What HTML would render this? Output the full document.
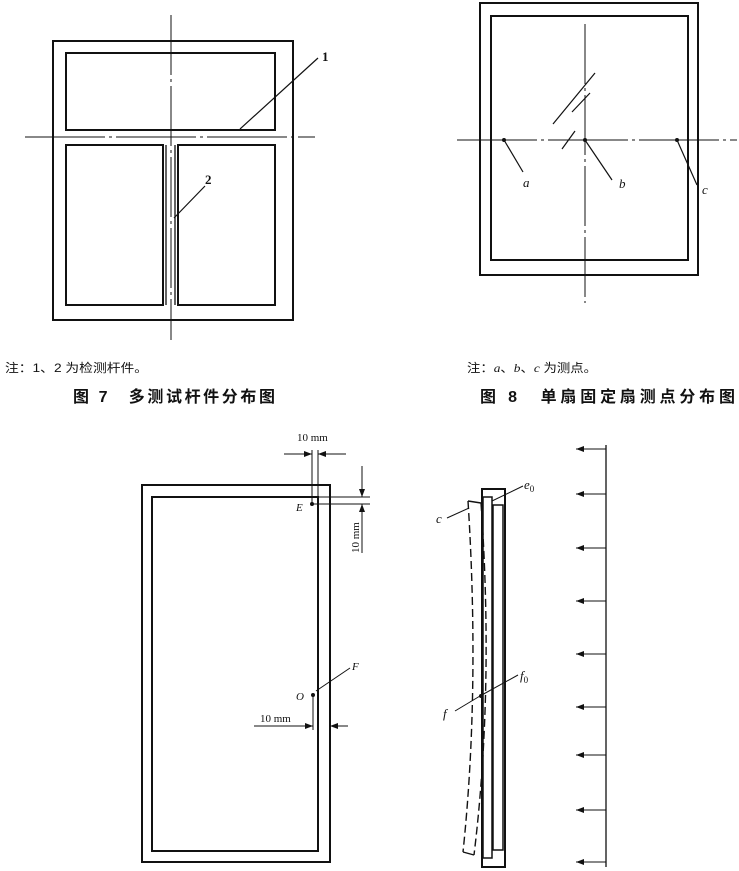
<!DOCTYPE html>
<html><head><meta charset="utf-8"><style>
body{margin:0;background:#fff;width:739px;height:871px;overflow:hidden}
svg{display:block}
text{font-family:"Liberation Serif","Noto Serif CJK SC",serif;fill:#111}
.cj{font-family:"Liberation Sans","Noto Sans CJK SC",sans-serif}
</style></head><body>
<svg width="739" height="871" viewBox="0 0 739 871" xmlns="http://www.w3.org/2000/svg">
<defs><marker id="ah" markerWidth="8" markerHeight="6" refX="8" refY="3" orient="auto" markerUnits="userSpaceOnUse"><path d="M0,0 L8,3 L0,6z" fill="#111"/></marker></defs>
<g stroke="#111" fill="none" stroke-width="2">
<!-- Fig 7 -->
<rect x="53" y="41" width="240" height="279"/>
<rect x="66" y="53" width="209" height="77"/>
<rect x="66" y="145" width="97" height="160"/>
<rect x="178" y="145" width="97" height="160"/>
<line x1="166" y1="145" x2="166" y2="305" stroke-width="1.3"/>
<line x1="175" y1="145" x2="175" y2="305" stroke-width="1.3"/>
<line x1="171" y1="15" x2="171" y2="340" stroke-width="1" stroke-dasharray="60,4,3,4"/>
<line x1="25" y1="137" x2="315" y2="137" stroke-width="1" stroke-dasharray="80,4,3,4"/>
<line x1="240" y1="129" x2="318" y2="58" stroke-width="1.2"/>
<line x1="174" y1="218" x2="205" y2="186" stroke-width="1.2"/>
<!-- Fig 8 -->
<rect x="480" y="3" width="218" height="272"/>
<rect x="491" y="16" width="197" height="244"/>
<line x1="585" y1="24" x2="585" y2="303" stroke-width="1" stroke-dasharray="60,4,3,4"/>
<line x1="457" y1="140" x2="737" y2="140" stroke-width="1" stroke-dasharray="80,4,3,4"/>
<line x1="504" y1="140" x2="523" y2="172" stroke-width="1.2"/>
<line x1="585" y1="140" x2="612" y2="180" stroke-width="1.2"/>
<line x1="677" y1="140" x2="697" y2="185" stroke-width="1.2"/>
<line x1="553" y1="124" x2="595" y2="73" stroke-width="1.2"/>
<line x1="572" y1="112" x2="590" y2="93" stroke-width="1.2"/>
<line x1="562" y1="149" x2="575" y2="131" stroke-width="1.2"/>
<!-- Fig 9 left -->
<rect x="142" y="485" width="188" height="377"/>
<rect x="152" y="497" width="166" height="354"/>
<g stroke-width="1">
<line x1="312" y1="450" x2="312" y2="504"/>
<line x1="318" y1="450" x2="318" y2="497"/>
<line x1="284" y1="454" x2="312" y2="454" marker-end="url(#ah)"/>
<line x1="346" y1="454" x2="318" y2="454" marker-end="url(#ah)"/>
<line x1="318" y1="497" x2="370" y2="497"/>
<line x1="312" y1="504" x2="370" y2="504"/>
<line x1="362" y1="466" x2="362" y2="497" marker-end="url(#ah)"/>
<line x1="362" y1="553" x2="362" y2="504" marker-end="url(#ah)"/>
<line x1="313" y1="695" x2="313" y2="730"/>
<line x1="254" y1="726" x2="313" y2="726" marker-end="url(#ah)"/>
<line x1="348" y1="726" x2="330" y2="726" marker-end="url(#ah)"/>
<line x1="316" y1="691" x2="350" y2="668"/>
</g>
<!-- Fig 9 right -->
<rect x="482" y="489" width="23" height="378"/>
<rect x="483" y="497" width="9" height="361" stroke-width="1.5"/>
<rect x="493" y="505" width="10" height="345" stroke-width="1.5"/>
<g stroke-width="1.4" stroke-dasharray="8,4">
<path d="M468,501 Q480,690 463,852"/>
<path d="M481,503 Q494,690 474,855"/>
</g>
<line x1="468" y1="501" x2="481" y2="503" stroke-width="1.4"/>
<line x1="463" y1="852" x2="474" y2="855" stroke-width="1.4"/>
<g stroke-width="1">
<line x1="447" y1="518" x2="469" y2="508"/>
<line x1="492" y1="501" x2="523" y2="486"/>
<line x1="480" y1="696" x2="518" y2="675"/>
<line x1="455" y1="711" x2="480" y2="696"/>
<line x1="606" y1="445" x2="606" y2="867" stroke-width="1.3"/>
<line x1="606" y1="449" x2="576" y2="449" marker-end="url(#ah)"/>
<line x1="606" y1="494" x2="576" y2="494" marker-end="url(#ah)"/>
<line x1="606" y1="548" x2="576" y2="548" marker-end="url(#ah)"/>
<line x1="606" y1="601" x2="576" y2="601" marker-end="url(#ah)"/>
<line x1="606" y1="654" x2="576" y2="654" marker-end="url(#ah)"/>
<line x1="606" y1="707" x2="576" y2="707" marker-end="url(#ah)"/>
<line x1="606" y1="755" x2="576" y2="755" marker-end="url(#ah)"/>
<line x1="606" y1="810" x2="576" y2="810" marker-end="url(#ah)"/>
<line x1="606" y1="862" x2="576" y2="862" marker-end="url(#ah)"/>
</g>
</g>
<g fill="#111">
<circle cx="504" cy="140" r="2"/><circle cx="585" cy="140" r="2"/><circle cx="677" cy="140" r="2"/>
<circle cx="312" cy="504" r="2"/><circle cx="313" cy="695" r="2"/><circle cx="481" cy="696" r="2"/>
</g>
<text x="322" y="61" font-size="13" font-weight="bold">1</text>
<text x="205" y="184" font-size="13" font-weight="bold">2</text>
<text class="cj" x="5" y="372" font-size="12" textLength="143" lengthAdjust="spacingAndGlyphs">注：1、2 为检测杆件。</text>
<text class="cj" x="73" y="402" font-size="16" font-weight="bold" textLength="202" lengthAdjust="spacing">图 7　多测试杆件分布图</text>
<g font-style="italic" font-size="13">
<text x="523" y="187">a</text><text x="619" y="188">b</text><text x="702" y="194">c</text>
<text x="296" y="511" font-size="11">E</text>
<text x="296" y="700" font-size="11">O</text>
<text x="352" y="670" font-size="11">F</text>
<text x="436" y="523">c</text>
<text x="524" y="489">e<tspan font-style="normal" font-size="9" dy="3">0</tspan></text>
<text x="520" y="680">f<tspan font-style="normal" font-size="9" dy="3">0</tspan></text>
<text x="443" y="718">f</text>
</g>
<text class="cj" x="467" y="372" font-size="12" textLength="130" lengthAdjust="spacingAndGlyphs">注：<tspan font-style="italic" font-family="Liberation Serif">a</tspan>、<tspan font-style="italic" font-family="Liberation Serif">b</tspan>、<tspan font-style="italic" font-family="Liberation Serif">c</tspan> 为测点。</text>
<text class="cj" x="480" y="402" font-size="16" font-weight="bold" textLength="255" lengthAdjust="spacing">图 8　单扇固定扇测点分布图</text>
<text x="297" y="441" font-size="11">10 mm</text>
<text x="260" y="722" font-size="11">10 mm</text>
<text x="0" y="0" font-size="11" transform="translate(359,553) rotate(-90)">10 mm</text>
</svg>
</body></html>
